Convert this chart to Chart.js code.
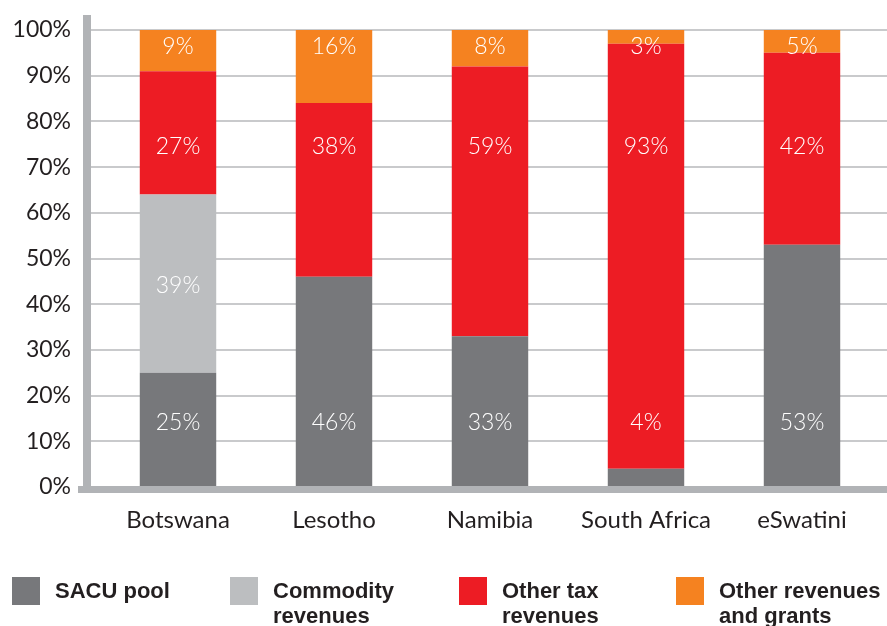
<!DOCTYPE html>
<html>
<head>
<meta charset="utf-8">
<script src="https://cdn.jsdelivr.net/npm/chart.js@4/dist/chart.umd.min.js"></script>
<style>
  html, body { margin: 0; padding: 0; background: #fff; }
  #wrap { width: 887px; height: 626px; }
</style>
</head>
<body>
<div id="wrap"><canvas id="revChart"></canvas></div>
<script>
const countries = ['Botswana', 'Lesotho', 'Namibia', 'South Africa', 'eSwatini'];
const sacuPool = [25, 46, 33, 4, 53];
const commodity = [39, 0, 0, 0, 0];
const otherTax = [27, 38, 59, 93, 42];
const otherRev = [9, 16, 8, 3, 5];
const yTicks = [0, 10, 20, 30, 40, 50, 60, 70, 80, 90, 100];

const axisGrey = '#b1b3b6';

// thick axis bars + grid lines, drawn under the bars
const axisPlugin = {
	id: 'axisBars',
	beforeDatasetsDraw(chart) {
		const { ctx, scales: { y } } = chart;
		ctx.save();
		ctx.strokeStyle = '#c9cacc';
		ctx.lineWidth = 2;
		yTicks.forEach(t => {
			if (t === 0) return;
			const py = Math.round(y.getPixelForValue(t));
			ctx.beginPath();
			ctx.moveTo(91, py);
			ctx.lineTo(chart.width, py);
			ctx.stroke();
		});
		ctx.fillStyle = axisGrey;
		const y0 = y.getPixelForValue(0);
		ctx.fillRect(83, 15, 8, y0 - 15);
		ctx.restore();
	},
	afterDatasetsDraw(chart) {
		const { ctx, scales: { y } } = chart;
		const y0 = y.getPixelForValue(0);
		ctx.save();
		ctx.fillStyle = axisGrey;
		ctx.fillRect(78, y0 - 1, chart.width - 78, 7);
		ctx.restore();
	}
};

// value labels sit at a fixed height per series
const labelPlugin = {
	id: 'barLabels',
	afterDatasetsDraw(chart) {
		const { ctx, scales: { y } } = chart;
		ctx.save();
		ctx.fillStyle = '#ffffff';
		ctx.font = '300 23px Lato, "DejaVu Sans", sans-serif';
		ctx.textAlign = 'center';
		ctx.textBaseline = 'middle';
		chart.data.datasets.forEach((ds, i) => {
			const meta = chart.getDatasetMeta(i);
			meta.data.forEach((bar, j) => {
				const v = ds.data[j];
				if (!v) return;
				ctx.fillText(v + '%', bar.x, y.getPixelForValue(ds.labelAt));
			});
		});
		ctx.restore();
	}
};

// legend with two-line labels at the bottom
const legendPlugin = {
	id: 'bottomLegend',
	afterDraw(chart) {
		const { ctx } = chart;
		const xs = [12, 230, 459, 676];
		ctx.save();
		chart.data.datasets.forEach((ds, i) => {
			ctx.fillStyle = ds.backgroundColor;
			ctx.fillRect(xs[i], 577, 28, 28);
			ctx.fillStyle = '#231f20';
			ctx.font = 'bold 22px "Liberation Sans", Arial, sans-serif';
			ctx.textBaseline = 'alphabetic';
			ds.label.split('\n').forEach((line, k) => {
				ctx.fillText(line, xs[i] + 43, 598 + k * 25);
			});
		});
		ctx.restore();
	}
};

new Chart(document.getElementById('revChart'), {
	type: 'bar',
	data: {
		labels: countries,
		datasets: [
			{ label: 'SACU pool', data: sacuPool, backgroundColor: '#77787b', labelAt: 14 },
			{ label: 'Commodity\nrevenues', data: commodity, backgroundColor: '#bcbec0', labelAt: 44 },
			{ label: 'Other tax\nrevenues', data: otherTax, backgroundColor: '#ed1c24', labelAt: 74.5 },
			{ label: 'Other revenues\nand grants', data: otherRev, backgroundColor: '#f58220', labelAt: 96.3 },
		],
	},
	options: {
		responsive: true,
		maintainAspectRatio: false,
		animation: false,
		layout: { padding: { top: 30, right: 7, left: 0, bottom: 0 } },
		datasets: {
			bar: { categoryPercentage: 1, barPercentage: 0.49, borderWidth: 0 }
		},
		plugins: {
			legend: { display: false },
			tooltip: { enabled: false },
		},
		scales: {
			x: {
				stacked: true,
				grid: { display: false, drawTicks: false },
				border: { display: false },
				ticks: {
					color: '#231f20',
					padding: 19,
					font: { family: 'Lato, "DejaVu Sans", sans-serif', size: 24 },
				},
				afterFit(scale) { scale.height = 139; },
			},
			y: {
				stacked: true,
				min: 0,
				max: 100,
				grid: { display: false, drawTicks: false },
				border: { display: false },
				ticks: {
					stepSize: 10,
					padding: 29,
					color: '#231f20',
					font: { family: 'Lato, "DejaVu Sans", sans-serif', size: 23 },
					callback: v => v + '%',
				},
				afterFit(scale) {
					scale.width = 100;
					scale.paddingTop = 0;
					scale.paddingBottom = 0;
				},
			},
		},
	},
	plugins: [axisPlugin, labelPlugin, legendPlugin],
});
</script>
</body>
</html>
